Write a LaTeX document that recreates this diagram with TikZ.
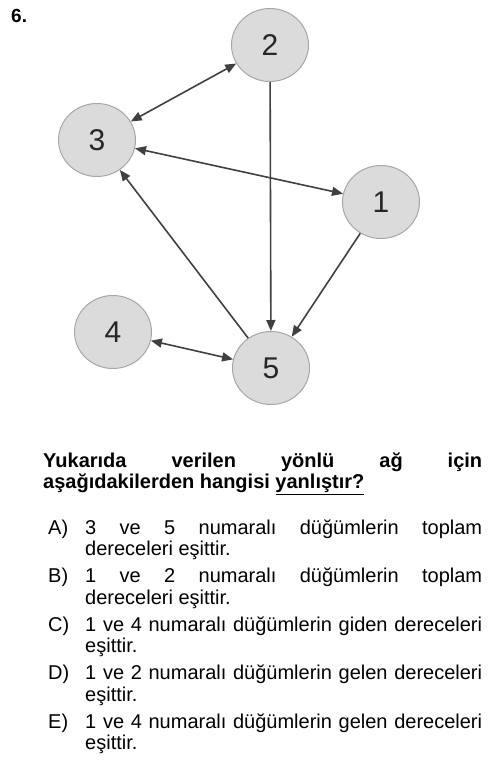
\documentclass[tikz,border=0pt]{standalone}
\usepackage{fontspec}
\setmainfont{Liberation Sans}
\usetikzlibrary{arrows.meta,shapes.geometric}
\hbadness=10000

\tikzset{
    vertex/.style={ellipse, draw=gray!70, line width=1pt, fill=gray!28,
        minimum width=77pt, minimum height=73pt, inner sep=0pt,
        font=\fontsize{30}{34}\selectfont, text=black!85},
    edge/.style={line width=1.6pt, draw=black!75, -{Triangle[length=11pt,width=9pt]}},
    both/.style={edge, {Triangle[length=11pt,width=9pt]}-{Triangle[length=11pt,width=9pt]}},
    optlabel/.style={anchor=base west, inner sep=0pt, font=\fontsize{20}{21.5}\selectfont},
    opttext/.style={optlabel, text width=397pt, align=justify},
}

\begin{document}
\begin{tikzpicture}[x=1pt, y=-1pt]
        \useasboundingbox (0,0) rectangle (500,772);

        \node[anchor=base west, inner sep=0pt, font=\bfseries\fontsize{19}{21}\selectfont] (qnum) at (11,22) {6.};

        % graph
        \foreach \name/\pos in {1/{(381,202)}, 2/{(270,45)}, 3/{(97,140)}, 4/{(113,332)}, 5/{(271,368)}} {
            \node[vertex] (n\name) at \pos {\name};
        }
        \draw[both] (n3) -- (n2);
        \draw[both] (n3) -- (n1);
        \draw[edge] (n2) -- (n5);
        \draw[edge] (n1) -- (n5);
        \draw[edge] (n5) -- (n3);
        \draw[both] (n4) -- (n5);

        % question
        \node[optlabel, text width=439pt, align=justify, font=\bfseries\fontsize{20}{21.5}\selectfont] (question) at (43,467)
            {Yukarıda verilen yönlü ağ için\linebreak aşağıdakilerden hangisi \underline{yanlıştır?}};

        \foreach \lab/\txt[count=\i] in {
            A/{3 ve 5 numaralı düğümlerin toplam\linebreak dereceleri eşittir.},
            B/{1 ve 2 numaralı düğümlerin toplam\linebreak dereceleri eşittir.},
            C/{1 ve 4 numaralı düğümlerin giden dereceleri\linebreak eşittir.},
            D/{1 ve 2 numaralı düğümlerin gelen dereceleri\linebreak eşittir.},
            E/{1 ve 4 numaralı düğümlerin gelen dereceleri\linebreak eşittir.}} {
            \node[optlabel] (lab\lab) at (48, {485.5+48.5*\i}) {\lab)};
            \node[opttext] (opt\lab) at (85, {485.5+48.5*\i}) {\txt};
        }
    \end{tikzpicture}
\end{document}
